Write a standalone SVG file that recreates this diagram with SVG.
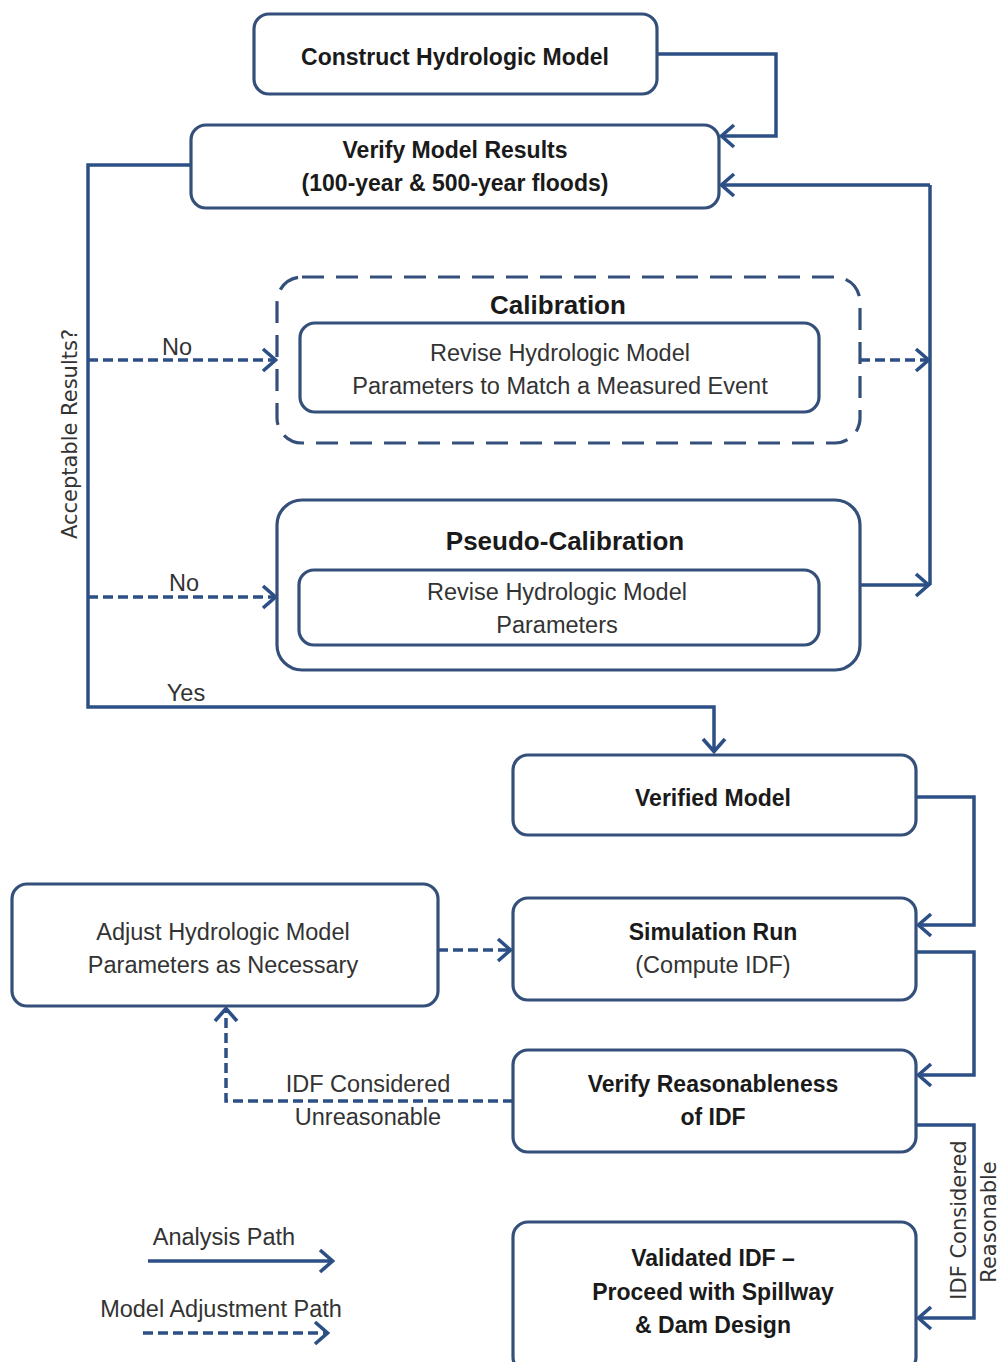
<svg xmlns="http://www.w3.org/2000/svg" width="1000" height="1362" viewBox="0 0 1000 1362">
<style>
.box{fill:#fff;stroke:#34507a;stroke-width:3.2}
.dbox{fill:none;stroke:#34507a;stroke-width:3.2;stroke-dasharray:22 12}
.c{fill:none;stroke:#2c4f85;stroke-width:3.5}
.d{fill:none;stroke:#2c4f85;stroke-width:3.5;stroke-dasharray:10 5}
text{font-family:"Liberation Sans",Arial,sans-serif;fill:#1a1a1a;text-anchor:middle}
.b{font-weight:bold;font-size:23px}
.n{font-size:23.5px;fill:#333}
.v{font-family:"DejaVu Sans",Verdana,sans-serif;font-size:21px;fill:#333}
</style>
<defs>
<marker id="a" viewBox="0 0 18 26" refX="16" refY="13" markerWidth="18" markerHeight="26" markerUnits="userSpaceOnUse" orient="auto">
<path d="M3,2 L15.5,13 L3,24" fill="none" stroke="#2c4f85" stroke-width="3.6"/>
</marker>
</defs>
<g id="connectors">
<path class="c" d="M657,54 H776 V136 H721" marker-end="url(#a)"/>
<path class="c" d="M930,185 V585"/>
<path class="c" d="M930,185 H721" marker-end="url(#a)"/>
<path class="c" d="M860,585 H929" marker-end="url(#a)"/>
<path class="d" d="M860,360 H929" marker-end="url(#a)"/>
<path class="c" d="M191,165 H88 V707 H714 V752" marker-end="url(#a)"/>
<path class="d" d="M88,360 H276" marker-end="url(#a)"/>
<path class="d" d="M88,597 H276" marker-end="url(#a)"/>
<path class="c" d="M916,797 H974 V925 H918" marker-end="url(#a)"/>
<path class="c" d="M916,952 H974 V1075 H918" marker-end="url(#a)"/>
<path class="c" d="M916,1125 H974 V1318 H918" marker-end="url(#a)"/>
<path class="d" d="M438,950 H511" marker-end="url(#a)"/>
<path class="d" d="M513,1101 H226 V1008" marker-end="url(#a)"/>
<path class="c" d="M148,1261 H333" marker-end="url(#a)"/>
<path class="d" d="M143,1333 H328" marker-end="url(#a)"/>
</g>
<g id="labels">
<text class="n" x="177" y="355">No</text>
<text class="n" x="184" y="591">No</text>
<text class="n" x="186" y="701">Yes</text>
<text class="v" transform="translate(77,434) rotate(-90)">Acceptable Results?</text>
<text class="n" x="368" y="1092">IDF Considered</text>
<text class="n" x="368" y="1125">Unreasonable</text>
<text class="v" transform="translate(966,1220) rotate(-90)">IDF Considered</text>
<text class="v" transform="translate(996,1222) rotate(-90)">Reasonable</text>
<text class="n" x="224" y="1245">Analysis Path</text>
<text class="n" x="221" y="1317">Model Adjustment Path</text>
</g>
<g id="construct">
<rect class="box" x="254" y="14" width="403" height="80" rx="15"/>
<text class="b" x="455" y="65">Construct Hydrologic Model</text>
</g>
<g id="verify">
<rect class="box" x="191" y="125" width="528" height="83" rx="15"/>
<text class="b" x="455" y="158">Verify Model Results</text>
<text class="b" x="455" y="191">(100-year &amp; 500-year floods)</text>
</g>
<g id="calibration">
<rect class="dbox" x="277" y="277" width="583" height="166" rx="25"/>
<text class="b" x="558" y="314" style="font-size:26px">Calibration</text>
<rect class="box" x="300" y="323" width="519" height="89" rx="15"/>
<text class="n" x="560" y="361">Revise Hydrologic Model</text>
<text class="n" x="560" y="394">Parameters to Match a Measured Event</text>
</g>
<g id="pseudo">
<rect class="box" x="277" y="500" width="583" height="170" rx="25"/>
<text class="b" x="565" y="550" style="font-size:26px">Pseudo-Calibration</text>
<rect class="box" x="299" y="570" width="520" height="75" rx="15"/>
<text class="n" x="557" y="600">Revise Hydrologic Model</text>
<text class="n" x="557" y="633">Parameters</text>
</g>
<g id="verified">
<rect class="box" x="513" y="755" width="403" height="80" rx="15"/>
<text class="b" x="713" y="806">Verified Model</text>
</g>
<g id="simulation">
<rect class="box" x="513" y="898" width="403" height="102" rx="15"/>
<text class="b" x="713" y="940">Simulation Run</text>
<text class="n" x="713" y="973">(Compute IDF)</text>
</g>
<g id="reasonableness">
<rect class="box" x="513" y="1050" width="403" height="102" rx="15"/>
<text class="b" x="713" y="1092">Verify Reasonableness</text>
<text class="b" x="713" y="1125">of IDF</text>
</g>
<g id="validated">
<rect class="box" x="513" y="1222" width="403" height="150" rx="15"/>
<text class="b" x="713" y="1266">Validated IDF –</text>
<text class="b" x="713" y="1300">Proceed with Spillway</text>
<text class="b" x="713" y="1333">&amp; Dam Design</text>
</g>
<g id="adjust">
<rect class="box" x="12" y="884" width="426" height="122" rx="15"/>
<text class="n" x="223" y="940">Adjust Hydrologic Model</text>
<text class="n" x="223" y="973">Parameters as Necessary</text>
</g>
</svg>
